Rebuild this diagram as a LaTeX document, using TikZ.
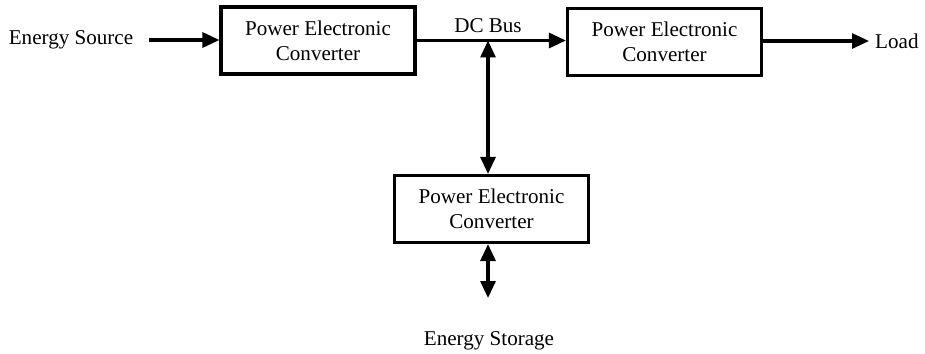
\documentclass[tikz,border=0pt]{standalone}
\usepackage{fontspec}
\setmainfont{Liberation Serif}
\usepackage{tikz}
\usetikzlibrary{arrows.meta,positioning,calc}

\begin{document}
\begin{tikzpicture}[
  x=0.02cm,y=-0.02cm,
  font=\fontsize{12}{14.2}\selectfont,
  conv/.style={draw,line width=1.8pt,align=center,inner sep=2pt,
              minimum width=3.88cm,minimum height=1.34cm},
  flow/.style={-{Triangle[length=0.34cm,width=0.3cm]},line width=1.8pt},
  both/.style={{Triangle[length=0.34cm,width=0.3cm]}-{Triangle[length=0.34cm,width=0.3cm]},line width=1.8pt}
]
\useasboundingbox (0,0) rectangle (925,354);
\node (src) at (71,40) {Energy Source};
\node[conv] (conv1) at (318,40.5) {Power Electronic\\ Converter};
\node[conv] (conv2) at (664.5,42) {Power Electronic\\ Converter};
\node[conv] (conv3) at (491.5,209) {Power Electronic\\ Converter};
\node[anchor=west] (load) at (869,41) {Load};
\node (store) at (489,341) {Energy Storage};

\coordinate (bus) at (488,40.5);
\coordinate (esend) at (488,298);

\draw[flow] (src.east) ++(10,0) coordinate (srcout) -- (srcout -| conv1.west);
\draw[flow] (conv1.east) -- (conv1.east -| conv2.west);
\node[above=1pt] (buslbl) at (bus) {DC Bus};
\draw[flow] (conv2.east |- load.west) -- (load.west);
\draw[both] (bus |- conv3.north) -- (bus);
\draw[both] (esend |- conv3.south) -- (esend);
\end{tikzpicture}
\end{document}
